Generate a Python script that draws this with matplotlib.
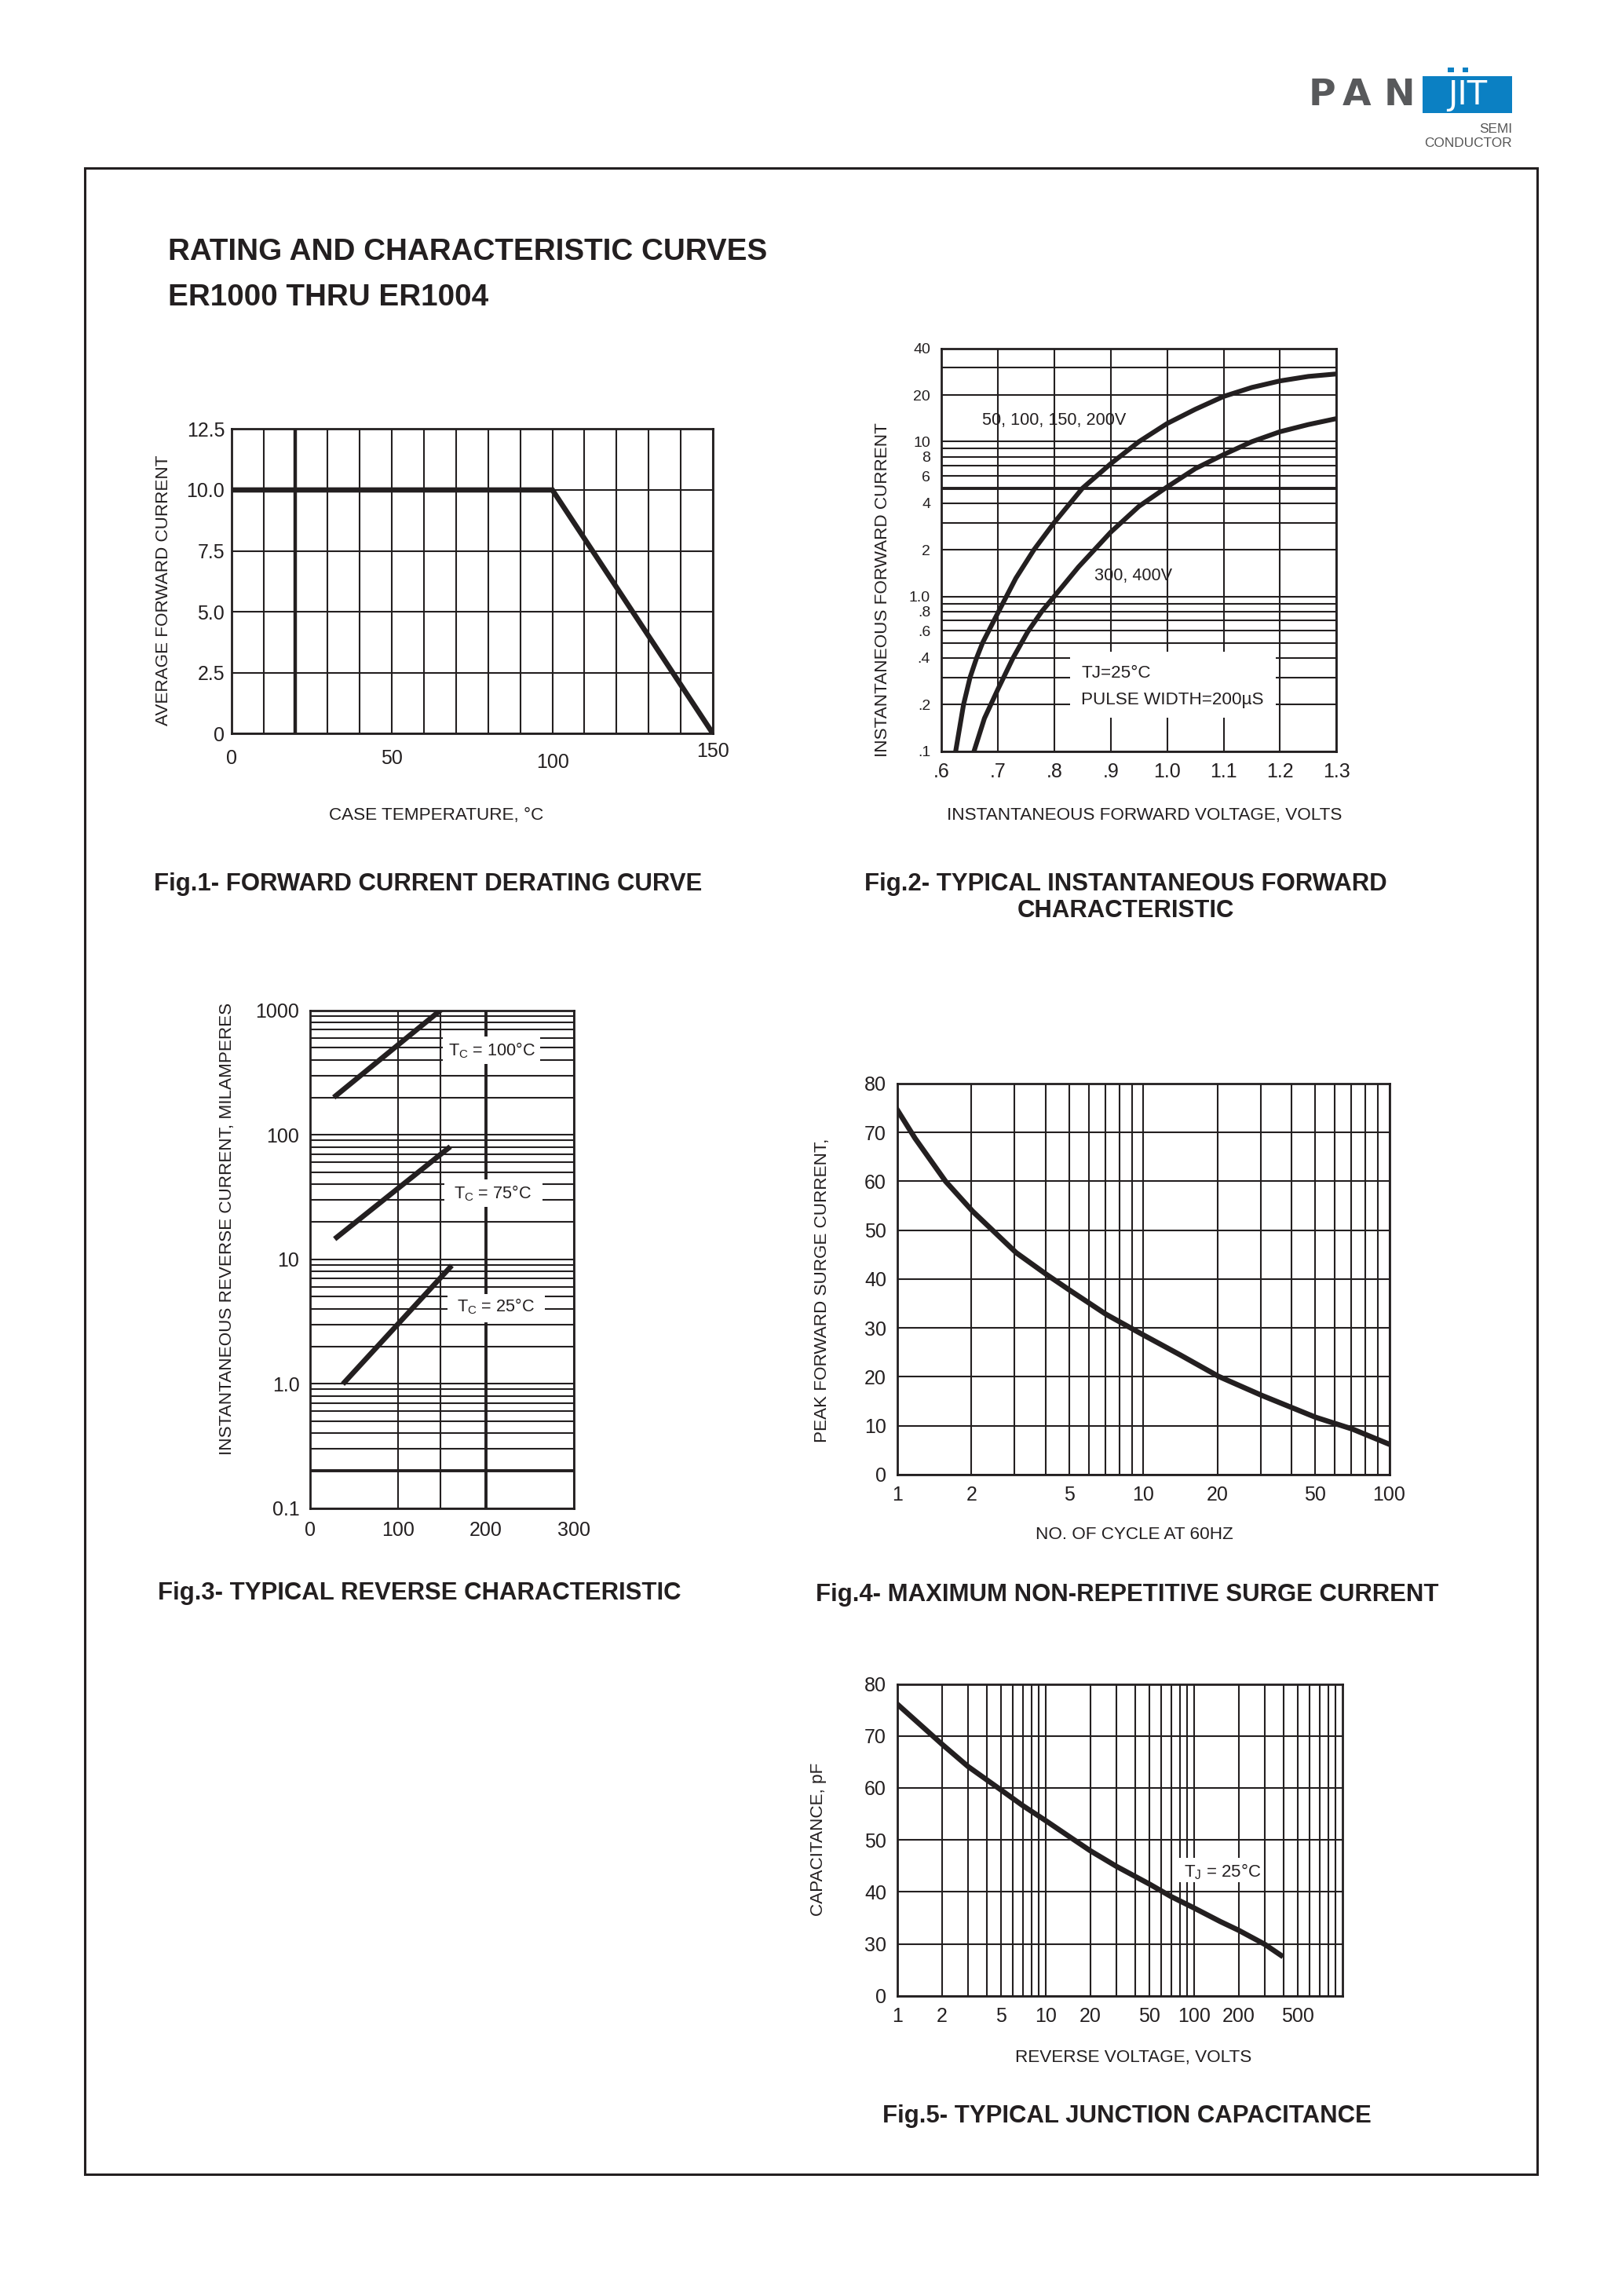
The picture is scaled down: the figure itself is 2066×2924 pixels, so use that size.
"""Rating and characteristic curves page for ER1000 thru ER1004 (datasheet replica)."""

import matplotlib
matplotlib.use("Agg")
import matplotlib.pyplot as plt
from matplotlib.patches import Rectangle

# Output size of the page
PAGE_W, PAGE_H = 2066, 2924
DPI = 200
# Layout positions below were measured on a 1108 x 1568 preview of the page
PREV_W, PREV_H = 1108.0, 1568.0

INK = "#231f20"
plt.rcParams["font.family"] = ["Liberation Sans", "DejaVu Sans"]
plt.rcParams["mathtext.default"] = "regular"

# ---- Fig.1 forward current derating curve
derate_temp = [0, 100, 150]
derate_amps = [10.0, 10.0, 0.0]

# ---- Fig.2 typical instantaneous forward characteristic
vf_200v_volts = [0.6255, 0.6394, 0.651, 0.6625, 0.673, 0.700, 0.732, 0.764, 0.800,
                 0.850, 0.900, 0.950, 1.000, 1.050, 1.100, 1.150, 1.200, 1.250, 1.300]
vf_200v_amps = [0.10, 0.20, 0.30, 0.40, 0.50, 0.78, 1.31, 2.0, 3.0,
                5.0, 7.2, 10.0, 13.1, 16.2, 19.6, 22.4, 24.7, 26.4, 27.4]
vf_400v_volts = [0.658, 0.6764, 0.700, 0.727, 0.753, 0.778, 0.800, 0.843, 0.900,
                 0.950, 1.000, 1.050, 1.100, 1.150, 1.200, 1.250, 1.300]
vf_400v_amps = [0.10, 0.163, 0.25, 0.40, 0.59, 0.80, 1.0, 1.55, 2.6,
                3.82, 5.1, 6.7, 8.25, 10.0, 11.6, 12.9, 14.1]

# ---- Fig.3 typical reverse characteristic (percent of rated voltage vs mA)
rev_v_100c = [29, 148]
rev_ma_100c = [206, 1000]
rev_v_75c = [30, 157]
rev_ma_75c = [15.0, 78.0]
rev_v_25c = [39, 159]
rev_ma_25c = [1.03, 8.6]

# ---- Fig.4 maximum non-repetitive surge current
surge_cycles = [1, 1.18, 1.57, 2.02, 3.04, 4.05, 5.06, 7.05, 9.97, 14.1, 20.2, 30.3, 50.3, 70.9, 100]
surge_amps = [74.6, 68.8, 60.0, 53.9, 45.4, 40.9, 37.6, 32.8, 28.6, 24.5, 20.1, 16.2, 11.7, 9.3, 6.2]

# ---- Fig.5 typical junction capacitance (axis break: "0" is drawn where 20 pF would be)
cap_volts = [1, 1.5, 2, 3, 5, 7, 10, 15, 20, 30, 50, 70, 100, 150, 200, 300, 385]
cap_pf = [76.1, 71.6, 68.4, 64.1, 59.6, 56.6, 53.7, 50.3, 47.9, 44.9, 41.5, 39.1,
          36.9, 34.3, 32.6, 29.9, 27.8]


def fx(x):
    return x / PREV_W


def fy(y):
    return 1.0 - y / PREV_H


def axes_at(fig, x0, y0, x1, y1):
    return fig.add_axes([fx(x0), fy(y1), fx(x1) - fx(x0), fy(y0) - fy(y1)])


def style_axes(ax, xpad, ypad, xsize=9, ysize=9):
    for spine in ax.spines.values():
        spine.set_linewidth(1.0)
        spine.set_color(INK)
    ax.tick_params(which="both", length=0, colors=INK)
    ax.tick_params(axis="x", which="major", pad=xpad, labelsize=xsize)
    ax.tick_params(axis="y", which="major", pad=ypad, labelsize=ysize)
    ax.set_axisbelow(True)
    ax.grid(which="both", color=INK, linewidth=0.75)


def label_box(ax, x0, x1, y0, y1):
    ax.add_patch(Rectangle((x0, y0), x1 - x0, y1 - y0, facecolor="white",
                           edgecolor="none", zorder=2))


fig = plt.figure(figsize=(PAGE_W / DPI, PAGE_H / DPI), dpi=DPI)

# page frame
fig.add_artist(Rectangle((fx(58), fy(1485)), fx(1050) - fx(58), fy(115) - fy(1485),
                         transform=fig.transFigure, fill=False, edgecolor=INK, linewidth=1.1))

# logo
for letter, cx in (("P", 903), ("A", 927), ("N", 956)):
    fig.text(fx(cx), fy(65), letter, ha="center", va="center", fontsize=17,
             fontweight="bold", color="#58595b", family="DejaVu Sans")
fig.add_artist(Rectangle((fx(972), fy(77)), fx(1033) - fx(972), fy(52) - fy(77),
                         transform=fig.transFigure, facecolor="#0b80c3", edgecolor="none"))
for dot_x in (989, 999):
    fig.add_artist(Rectangle((fx(dot_x), fy(49.5)), fx(4), fy(0) - fy(3.5),
                             transform=fig.transFigure, facecolor="#0b80c3", edgecolor="none"))
fig.text(fx(1002.5), fy(65), "JIT", ha="center", va="center", fontsize=15,
         color="white", family="DejaVu Sans")
fig.text(fx(1033), fy(88), "SEMI", ha="right", va="center", fontsize=6.2, color="#555555")
fig.text(fx(1033), fy(98), "CONDUCTOR", ha="right", va="center", fontsize=6.2, color="#555555")

# page title
fig.text(fx(115), fy(172), "RATING AND CHARACTERISTIC CURVES", ha="left", va="center",
         fontsize=13.9, fontweight="bold", color=INK)
fig.text(fx(115), fy(203), "ER1000 THRU ER1004", ha="left", va="center",
         fontsize=13.9, fontweight="bold", color=INK)

CAPTION = dict(fontsize=11.2, fontweight="bold", color=INK, va="center")
AXLABEL = dict(fontsize=8.1, color=INK, va="center", ha="center")

# ---------------- Fig.1
ax1 = axes_at(fig, 158, 293, 487, 501)
style_axes(ax1, xpad=7, ypad=3)
ax1.set_xlim(0, 150)
ax1.set_ylim(0, 12.5)
ax1.set_xticks([0, 50, 100, 150])
ax1.set_xticks(range(0, 151, 10), minor=True)
ax1.set_yticks([0, 2.5, 5.0, 7.5, 10.0, 12.5])
ax1.set_yticklabels(["0", "2.5", "5.0", "7.5", "10.0", "12.5"])
ax1.axvline(20, color=INK, linewidth=1.6, zorder=1)
ax1.plot(derate_temp, derate_amps, color=INK, linewidth=2.4, solid_joinstyle="miter", zorder=4)
ticks1 = ax1.xaxis.get_major_ticks()
ticks1[2].set_pad(9)
ticks1[3].set_pad(4)
fig.text(fx(112), fy(403), "AVERAGE FORWARD CURRENT", rotation=90, **AXLABEL)
fig.text(fx(298), fy(557), "CASE TEMPERATURE, °C", **AXLABEL)
fig.text(fx(105), fy(604), "Fig.1- FORWARD CURRENT DERATING CURVE", ha="left", **CAPTION)

# ---------------- Fig.2
ax2 = axes_at(fig, 643, 238, 913, 513)
style_axes(ax2, xpad=5, ypad=5, xsize=9, ysize=7)
ax2.set_yscale("log")
ax2.set_xlim(0.6, 1.3)
ax2.set_ylim(0.1, 40)
ax2.set_xticks([0.6, 0.7, 0.8, 0.9, 1.0, 1.1, 1.2, 1.3])
ax2.set_xticklabels([".6", ".7", ".8", ".9", "1.0", "1.1", "1.2", "1.3"])
ax2.set_yticks([0.1, 0.2, 0.4, 0.6, 0.8, 1, 2, 4, 6, 8, 10, 20, 40])
ax2.set_yticklabels([".1", ".2", ".4", ".6", ".8", "1.0", "2", "4", "6", "8", "10", "20", "40"])
ax2.set_yticks([0.3, 0.5, 0.7, 0.9, 3, 5, 7, 9, 30], minor=True)
ax2.set_yticklabels([], minor=True)
ax2.axhline(5, color=INK, linewidth=1.4, zorder=1)
label_box(ax2, 0.828, 1.192, 0.165, 0.44)
ax2.plot(vf_200v_volts, vf_200v_amps, color=INK, linewidth=2.2, zorder=4)
ax2.plot(vf_400v_volts, vf_400v_amps, color=INK, linewidth=2.2, zorder=4)
ax2.text(0.80, 13.7, "50, 100, 150, 200V", ha="center", va="center", fontsize=7.8, color=INK, zorder=5)
ax2.text(0.94, 1.36, "300, 400V", ha="center", va="center", fontsize=7.8, color=INK, zorder=5)
ax2.text(0.848, 0.32, "TJ=25°C", ha="left", va="center", fontsize=8.1, color=INK, zorder=5)
ax2.text(0.848, 0.214, "PULSE WIDTH=200µS", ha="left", va="center", fontsize=8.1, color=INK, zorder=5)
fig.text(fx(603), fy(403), "INSTANTANEOUS FORWARD CURRENT", rotation=90, **AXLABEL)
fig.text(fx(782), fy(557), "INSTANTANEOUS FORWARD VOLTAGE, VOLTS", **AXLABEL)
fig.text(fx(769), fy(604), "Fig.2- TYPICAL INSTANTANEOUS FORWARD", ha="center", **CAPTION)
fig.text(fx(769), fy(622), "CHARACTERISTIC", ha="center", **CAPTION)

# ---------------- Fig.3
ax3 = axes_at(fig, 212, 690, 392, 1030)
style_axes(ax3, xpad=6, ypad=5)
ax3.set_yscale("log")
ax3.set_xlim(0, 300)
ax3.set_ylim(0.1, 1000)
ax3.set_xticks([0, 100, 200, 300])
ax3.set_xticks([148], minor=True)
ax3.set_yticks([0.1, 1, 10, 100, 1000])
ax3.set_yticklabels(["0.1", "1.0", "10", "100", "1000"])
ax3.set_yticks([m * d for d in (0.1, 1, 10, 100) for m in range(2, 10)], minor=True)
ax3.set_yticklabels([], minor=True)
ax3.axhline(0.2, color=INK, linewidth=1.4, zorder=1)
ax3.axvline(200, color=INK, linewidth=1.4, zorder=1)
label_box(ax3, 151, 262, 372, 618)
label_box(ax3, 153, 264, 26.3, 43.7)
label_box(ax3, 156, 267, 3.1, 5.25)
ax3.plot(rev_v_100c, rev_ma_100c, color=INK, linewidth=2.4, zorder=4)
ax3.plot(rev_v_75c, rev_ma_75c, color=INK, linewidth=2.4, zorder=4)
ax3.plot(rev_v_25c, rev_ma_25c, color=INK, linewidth=2.4, zorder=4)
ax3.text(207, 475, "T$_C$ = 100°C", ha="center", va="center", fontsize=7.8, color=INK, zorder=5)
ax3.text(208, 34, "T$_C$ = 75°C", ha="center", va="center", fontsize=7.8, color=INK, zorder=5)
ax3.text(211, 4.2, "T$_C$ = 25°C", ha="center", va="center", fontsize=7.8, color=INK, zorder=5)
fig.text(fx(155), fy(839), "INSTANTANEOUS REVERSE CURRENT, MILAMPERES", rotation=90, **AXLABEL)
fig.text(fx(108), fy(1088), "Fig.3- TYPICAL REVERSE CHARACTERISTIC", ha="left", **CAPTION)

# ---------------- Fig.4
ax4 = axes_at(fig, 613, 740, 949, 1007)
style_axes(ax4, xpad=5, ypad=5)
ax4.set_xscale("log")
ax4.set_xlim(1, 100)
ax4.set_ylim(0, 80)
ax4.set_xticks([1, 2, 5, 10, 20, 50, 100])
ax4.set_xticklabels(["1", "2", "5", "10", "20", "50", "100"])
ax4.set_xticks([m * d for d in (1, 10) for m in (3, 4, 6, 7, 8, 9)], minor=True)
ax4.set_xticklabels([], minor=True)
ax4.set_yticks(range(0, 81, 10))
ax4.plot(surge_cycles, surge_amps, color=INK, linewidth=2.4, zorder=4)
fig.text(fx(562), fy(881), "PEAK FORWARD SURGE CURRENT,", rotation=90, **AXLABEL)
fig.text(fx(775), fy(1048), "NO. OF CYCLE AT 60HZ", **AXLABEL)
fig.text(fx(557), fy(1089), "Fig.4- MAXIMUM NON-REPETITIVE SURGE CURRENT", ha="left", **CAPTION)

# ---------------- Fig.5
ax5 = axes_at(fig, 613, 1150, 917, 1363)
style_axes(ax5, xpad=5, ypad=5)
ax5.set_xscale("log")
ax5.set_xlim(1, 1000)
ax5.set_ylim(20, 80)
ax5.set_xticks([1, 2, 5, 10, 20, 50, 100, 200, 500])
ax5.set_xticklabels(["1", "2", "5", "10", "20", "50", "100", "200", "500"])
ax5.set_xticks([m * d for d in (1, 10, 100) for m in (3, 4, 6, 7, 8, 9)], minor=True)
ax5.set_xticklabels([], minor=True)
ax5.set_yticks(range(20, 81, 10))
ax5.set_yticklabels(["0", "30", "40", "50", "60", "70", "80"])
label_box(ax5, 76, 284, 41.8, 46.5)
ax5.plot(cap_volts, cap_pf, color=INK, linewidth=2.4, zorder=4)
ax5.text(155, 43.9, "T$_J$ = 25°C", ha="center", va="center", fontsize=8, color=INK, zorder=5)
fig.text(fx(559), fy(1256), "CAPACITANCE, pF", rotation=90, **AXLABEL)
fig.text(fx(774), fy(1405), "REVERSE VOLTAGE, VOLTS", **AXLABEL)
fig.text(fx(603), fy(1445), "Fig.5- TYPICAL JUNCTION CAPACITANCE", ha="left", **CAPTION)

fig.savefig("out.png", dpi=DPI, facecolor="white")
